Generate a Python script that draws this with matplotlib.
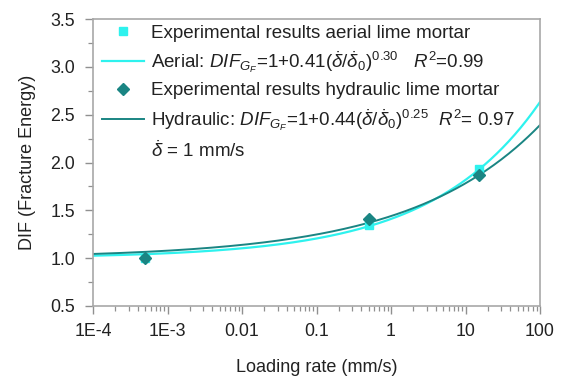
import numpy as np
import matplotlib
matplotlib.use("Agg")
import matplotlib.pyplot as plt
from matplotlib.lines import Line2D
from matplotlib.ticker import LogLocator, MultipleLocator, FixedLocator, FixedFormatter, NullFormatter, FormatStrFormatter

plt.rcParams['font.family'] = ['Liberation Sans', 'DejaVu Sans']
plt.rcParams['mathtext.fontset'] = 'custom'
plt.rcParams['mathtext.rm'] = 'Liberation Sans'
plt.rcParams['mathtext.it'] = 'Liberation Sans:italic'
plt.rcParams['mathtext.bf'] = 'Liberation Sans:bold'

# Data
rates = [5e-4, 0.5, 15]
aerial_dif = [1.00, 1.35, 1.93]
hydraulic_dif = [1.00, 1.41, 1.87]
# fit parameters from legend: DIF = 1 + a * (rate/1)^b
aerial_fit = (0.41, 0.30)
hydraulic_fit = (0.44, 0.25)
xtick_vals = [1e-4, 1e-3, 1e-2, 1e-1, 1, 10, 100]
xtick_labels = ['1E-4', '1E-3', '0.01', '0.1', '1', '10', '100']

c_aer = '#2ef2ee'
c_hyd = '#1a8583'

fig = plt.figure(figsize=(5.75, 3.8), dpi=100)
ax = fig.add_axes([93/575, 1 - 306/380, (540-93)/575, (306-19)/380])

xx = np.logspace(-4, 2, 300)
l1, = ax.plot(xx, 1 + aerial_fit[0] * xx ** aerial_fit[1], color=c_aer, lw=1.6)
l2, = ax.plot(xx, 1 + hydraulic_fit[0] * xx ** hydraulic_fit[1], color=c_hyd, lw=1.4)
s1, = ax.plot(rates, aerial_dif, 's', color=c_aer, ms=6, ls='none')
s2, = ax.plot(rates, hydraulic_dif, 'D', color=c_hyd, ms=6, ls='none')

ax.set_xscale('log')
ax.set_xlim(1e-4, 100)
ax.set_ylim(0.5, 3.5)
ax.xaxis.set_major_locator(FixedLocator(xtick_vals))
ax.xaxis.set_major_formatter(FixedFormatter(xtick_labels))
ax.xaxis.set_minor_locator(LogLocator(base=10, subs=np.arange(2, 10), numticks=20))
ax.xaxis.set_minor_formatter(NullFormatter())
ax.yaxis.set_major_locator(MultipleLocator(0.5))
ax.yaxis.set_minor_locator(MultipleLocator(0.25))
ax.yaxis.set_major_formatter(FormatStrFormatter('%.1f'))

for sp in ax.spines.values():
    sp.set_color('#a8a8a8')
    sp.set_linewidth(1.2)
ax.tick_params(which='major', direction='out', length=6, width=1, color='#909090',
               labelsize=12.8, labelcolor='#222222')
ax.tick_params(axis='y', which='major', pad=7)
ax.tick_params(axis='x', which='major', pad=6)
ax.tick_params(which='minor', direction='out', length=3.5, width=0.9, color='#909090')

ax.set_xlabel('Loading rate (mm/s)', fontsize=13, color='#222222', labelpad=14)
ax.set_ylabel('DIF (Fracture Energy)', fontsize=13, color='#222222', labelpad=10)

blank = Line2D([], [], ls='none', marker='none')
labels = [
    'Experimental results aerial lime mortar',
    r'Aerial: $\mathit{DIF}_{G_F}$=1+0.41($\dot{\delta}/\dot{\delta}_0$)$^{0.30}$   $\mathit{R}^2$=0.99',
    'Experimental results hydraulic lime mortar',
    r'Hydraulic: $\mathit{DIF}_{G_F}$=1+0.44($\dot{\delta}/\dot{\delta}_0$)$^{0.25}$  $\mathit{R}^2$= 0.97',
    r'$\dot{\delta}$ = 1 mm/s',
]
leg = ax.legend([s1, l1, s2, l2, blank], labels, loc='upper left',
                bbox_to_anchor=(-0.005, 1.02), frameon=False, fontsize=13.5,
                handlelength=2.25, handletextpad=0.36, labelspacing=0.4,
                borderaxespad=0.2)
for t in leg.get_texts():
    t.set_color('#222222')

fig.savefig('out.png', dpi=100)
